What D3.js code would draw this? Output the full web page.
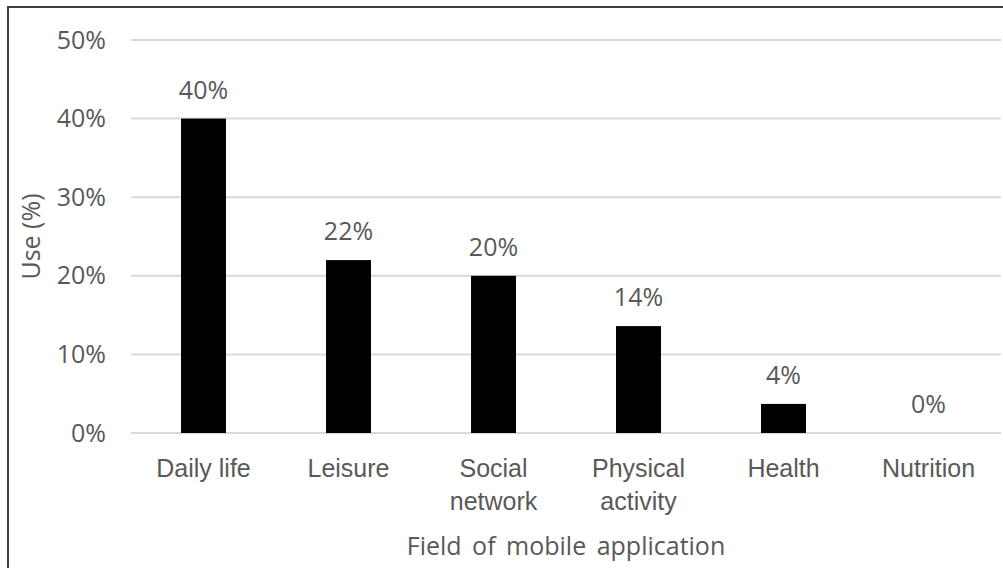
<!DOCTYPE html>
<html>
<head>
    <meta charset='utf-8'>
    <title>Field of mobile application</title>
    <style>
        body { margin: 0; background: #fff; }
        svg { display: block; font-family: 'Open Sans', sans-serif; }
        .grid line { stroke: #d9d9d9; stroke-width: 2; }
        .tick text { fill: #595959; }
        .bar { fill: #000; }
        .lbl { fill: #595959; font-size: 25px; }
    </style>
</head>
<body>
    <svg width="1003" height="568"></svg>

    <script src="https://cdn.jsdelivr.net/npm/d3@7"></script>
    <script>
        const CATEGORIES = [['Daily life'], ['Leisure'], ['Social', 'network'], ['Physical', 'activity'], ['Health'], ['Nutrition']];
        const USE = [0.40, 0.22, 0.20, 0.136, 0.037, 0.0];
        const Y_TICKS = [0, 0.1, 0.2, 0.3, 0.4, 0.5];

        const svg = d3.select('svg');
        const plotLeft = 131, plotRight = 1001, plotTop = 40, plotBottom = 433;
        const names = CATEGORIES.map(c => c.join(' '));

        const xScale = d3.scaleBand()
            .domain(names)
            .range([plotLeft, plotRight])
            .paddingInner(0.69)
            .paddingOuter(0.345);

        const yScale = d3.scaleLinear().domain([0, 0.5]).range([plotBottom, plotTop]);

        // outer frame, cut off at right/bottom like the original
        svg.append('rect')
            .attr('x', 8).attr('y', 7)
            .attr('width', 1100).attr('height', 700)
            .attr('fill', 'none')
            .attr('stroke', '#3f3f3f')
            .attr('stroke-width', 2);

        // gridlines
        svg.append('g')
            .attr('class', 'grid')
            .selectAll('line')
            .data(Y_TICKS)
            .enter()
            .append('line')
            .attr('x1', plotLeft).attr('x2', plotRight)
            .attr('y1', d => yScale(d)).attr('y2', d => yScale(d));

        // y axis labels
        const yAxis = d3.axisLeft(yScale)
            .tickValues(Y_TICKS)
            .tickFormat(d3.format('.0%'))
            .tickSize(0)
            .tickPadding(25);

        svg.append('g')
            .attr('transform', `translate(${plotLeft},0)`)
            .call(yAxis)
            .call(g => g.select('.domain').remove())
            .selectAll('text')
            .attr('font-size', 25)
            .attr('font-family', "'Open Sans', sans-serif");

        // bars
        const data = names.map((n, i) => ({ name: n, value: USE[i] }));

        svg.selectAll('.bar')
            .data(data)
            .enter()
            .append('rect')
            .classed('bar', true)
            .attr('x', d => xScale(d.name))
            .attr('width', xScale.bandwidth())
            .attr('y', d => yScale(d.value))
            .attr('height', d => yScale(0) - yScale(d.value));

        // value labels
        svg.selectAll('.val')
            .data(data)
            .enter()
            .append('text')
            .attr('class', 'lbl')
            .attr('text-anchor', 'middle')
            .attr('x', d => xScale(d.name) + xScale.bandwidth() / 2)
            .attr('y', d => yScale(d.value) - 20)
            .text(d => d3.format('.0%')(d.value));

        // category labels (x axis)
        const xAxis = d3.axisBottom(xScale).tickSize(0).tickFormat('');
        const xg = svg.append('g')
            .attr('transform', `translate(0,${plotBottom})`)
            .call(xAxis)
            .call(g => g.select('.domain').remove());

        xg.selectAll('.tick').each(function (d, i) {
            const t = d3.select(this).append('text')
                .attr('class', 'lbl')
                .attr('text-anchor', 'middle');
            CATEGORIES[i].forEach((line, j) => {
                t.append('tspan').attr('x', 0).attr('y', 44 + j * 33).text(line);
            });
        });

        // axis titles
        svg.append('text')
            .attr('class', 'lbl')
            .attr('text-anchor', 'middle')
            .attr('x', (plotLeft + plotRight) / 2)
            .attr('y', 555)
            .attr('word-spacing', 4)
            .text('Field of mobile application');

        svg.append('text')
            .attr('class', 'lbl')
            .attr('text-anchor', 'middle')
            .attr('transform', `translate(40,${(plotTop + plotBottom) / 2}) rotate(-90)`)
            .text('Use (%)');
    </script>
</body>
</html>
